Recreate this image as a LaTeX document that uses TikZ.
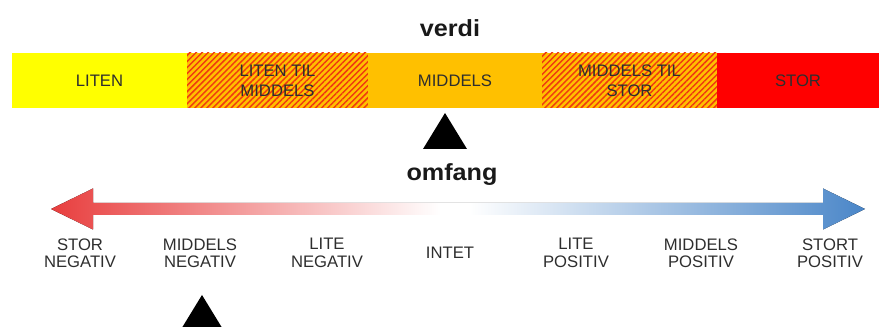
\documentclass[tikz,border=0pt]{standalone}
\usepackage{fontspec}
\setmainfont{Liberation Sans}
\newfontfamily\titlefont[FakeStretch=1.08]{Liberation Sans}
\usetikzlibrary{patterns.meta}
\definecolor{barYellow}{HTML}{FFFF00}
\definecolor{barOrange}{HTML}{FFC000}
\definecolor{barRed}{HTML}{FF0000}
\definecolor{hatchRed}{HTML}{F03A10}
\definecolor{aRed}{HTML}{E83E3E}
\definecolor{aBlue}{HTML}{4A86C8}
\definecolor{txt}{HTML}{2E2E2E}
\pgfdeclarehorizontalshading{rwb}{100bp}{color(0bp)=(aRed); color(25bp)=(aRed); color(48.9bp)=(white); color(50.7bp)=(white); color(75bp)=(aBlue); color(100bp)=(aBlue)}
\begin{document}
\begin{tikzpicture}[x=0.75pt,y=-0.75pt,
  title/.style={font=\titlefont\bfseries\fontsize{17.5}{21}\selectfont, anchor=base, text=black!90, inner sep=0pt},
  barlabel/.style={font=\fontsize{12.5}{15}\selectfont, text=txt, align=center, inner sep=0pt},
  scalelabel/.style={font=\fontsize{12.5}{13}\selectfont, text=txt, align=center, inner sep=0pt},
  hatched/.style={fill=barOrange, postaction={pattern={Lines[angle=45,distance=3.2pt,line width=1.1pt]}, pattern color=hatchRed}},
  marker/.style={fill=black}]
\useasboundingbox (0,0) rectangle (879,327);
\clip (0,0) rectangle (879,327);

% titles
\node[title] (verdi) at (450,37) {verdi};
\node[title] (omfang) at (452,181) {omfang};

% bar
\fill[barYellow] (12,53) rectangle (187,108);
\path[hatched] (187,53) rectangle (368,108);
\fill[barOrange] (368,53) rectangle (542,108);
\path[hatched] (542,53) rectangle (717,108);
\fill[barRed] (717,53) rectangle (879,108);

\node[barlabel] (liten) at (99.5,80.5) {LITEN};
\node[barlabel] (ltm) at (277.5,80.5) {LITEN TIL\\MIDDELS};
\node[barlabel] (middels) at (455,80.5) {MIDDELS};
\node[barlabel] (mts) at (629.5,80.5) {MIDDELS TIL\\STOR};
\node[barlabel] (stor) at (798,80.5) {STOR};

% markers
\fill[marker] (445,113) -- (467,149) -- (423,149) -- cycle;
\fill[marker] (202,295) -- (224,331) -- (180,331) -- cycle;

% gradient double arrow
\fill[shading=rwb] (51,209) -- (93,188.5) -- (93,203) -- (823,203) -- (823,188.5)
  -- (865,209) -- (823,229.5) -- (823,215) -- (93,215) -- (93,229.5) -- cycle;

% scale labels
\node[scalelabel] (s1) at (80,253) {STOR\\NEGATIV};
\node[scalelabel] (s2) at (200,253) {MIDDELS\\NEGATIV};
\node[scalelabel] (s3) at (327,253) {LITE\\NEGATIV};
\node[scalelabel] (s4) at (450,253) {INTET};
\node[scalelabel] (s5) at (576,253) {LITE\\POSITIV};
\node[scalelabel] (s6) at (701,253) {MIDDELS\\POSITIV};
\node[scalelabel] (s7) at (830,253) {STORT\\POSITIV};
\end{tikzpicture}
\end{document}
